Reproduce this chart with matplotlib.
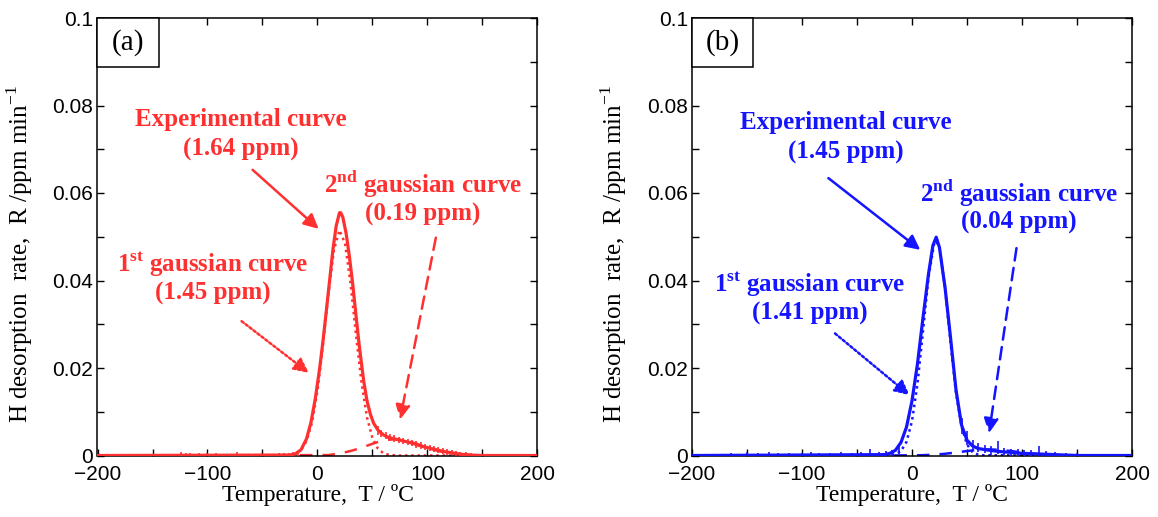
import matplotlib

matplotlib.use("Agg")

import matplotlib.pyplot as plt
from matplotlib.patches import Rectangle
from matplotlib.ticker import FuncFormatter, MultipleLocator

plt.rcParams["mathtext.fontset"] = "custom"
plt.rcParams["mathtext.rm"] = "Liberation Serif"
plt.rcParams["mathtext.bf"] = "Liberation Serif:bold"
plt.rcParams["axes.unicode_minus"] = True

RED = "#ff3030"
BLUE = "#1414ff"
SERIF = "Liberation Serif"
SANS = "Liberation Sans"

# ---- data (T in degC, R in ppm/min) ----
exp_a_T = [-200, -25, -20, -15, -10, -6, -2, 2, 5, 8, 11, 14, 17, 20, 21, 23, 26, 29,
           32, 35, 38, 42, 45, 48, 51, 55, 60, 65, 70, 75, 80, 85, 90, 95, 100, 105,
           110, 115, 120, 125, 130, 140, 150, 200]
exp_a_R = [0, 0.0001, 0.0004, 0.0013, 0.0038, 0.0075, 0.0130, 0.0200, 0.0262, 0.0330,
           0.0400, 0.0470, 0.0525, 0.0555, 0.0555, 0.0545, 0.0508, 0.0455, 0.0392,
           0.0320, 0.0250, 0.0170, 0.0125, 0.0095, 0.0074, 0.0058, 0.0047, 0.0041,
           0.0038, 0.0035, 0.0032, 0.0029, 0.0025, 0.0021, 0.0018, 0.0015, 0.0012,
           0.0009, 0.0007, 0.0005, 0.0003, 0.0001, 0, 0]

g1_a_T = [-200, -25, -20, -15, -10, -5, 0, 5, 10, 15, 20, 25, 30, 35, 40, 45, 50, 55,
          60, 65, 70, 75, 200]
g1_a_R = [0, 0.0001, 0.0004, 0.00124, 0.00328, 0.00752, 0.01486, 0.02529, 0.03718,
          0.04709, 0.0515, 0.04851, 0.03943, 0.02765, 0.01672, 0.00872, 0.00392,
          0.00152, 0.00051, 0.00015, 0.00004, 0, 0]

g2_a_T = [-200, 10, 20, 25, 30, 35, 40, 45, 50, 55, 60, 65, 70, 75, 80, 85, 90, 95, 100,
          105, 110, 115, 120, 125, 130, 135, 140, 150, 200]
g2_a_R = [0, 0.0001, 0.0005, 0.00073, 0.00103, 0.00139, 0.0018, 0.00224, 0.00269,
          0.00309, 0.00342, 0.00363, 0.0037, 0.00363, 0.00342, 0.00309, 0.00269,
          0.00224, 0.0018, 0.00139, 0.00103, 0.00073, 0.0005, 0.00033, 0.00021,
          0.00013, 0.00007, 0.00002, 0]

exp_b_T = [-200, -25, -20, -15, -10, -5, 0, 5, 10, 15, 19, 22, 25, 28, 30, 35, 40, 45,
           50, 55, 60, 70, 80, 90, 100, 110, 120, 130, 140, 150, 200]
exp_b_R = [0, 0.0002, 0.0005, 0.0012, 0.0030, 0.0065, 0.0125, 0.0210, 0.0315, 0.0415,
           0.0480, 0.0499, 0.0475, 0.0420, 0.0385, 0.0270, 0.0150, 0.0070, 0.0035,
           0.0022, 0.0016, 0.0012, 0.0009, 0.0007, 0.0005, 0.0004, 0.0003, 0.0002,
           0.0001, 0, 0]

g1_b_T = [-200, -20, -15, -10, -5, 0, 5, 10, 15, 20, 22, 25, 30, 35, 40, 45, 50, 55,
          60, 65, 200]
g1_b_R = [0, 0.00006, 0.00028, 0.00102, 0.00311, 0.00786, 0.01643, 0.02843, 0.04072,
          0.04826, 0.0490, 0.04736, 0.03846, 0.02586, 0.01439, 0.00663, 0.00253, 0.0008,
          0.00021, 0.00005, 0]

g2_b_T = [-200, 0, 10, 20, 30, 40, 50, 60, 70, 80, 90, 100, 110, 120, 130, 140, 200]
g2_b_R = [0, 0.00003, 0.00008, 0.00019, 0.00039, 0.00068, 0.00102, 0.00129, 0.0014,
          0.00129, 0.00102, 0.00068, 0.00039, 0.00019, 0.00008, 0.00003, 0]

# noise spikes on the measured curve: position, low, high
noise_a_T = [-124, -120, -116, -112, -108, -104, -100, -96, -92, -73, -40, -35, -30, -26,
             -22, -18, 55, 58, 62, 66, 70, 74, 78, 82, 86, 90, 94, 98, 102, 106, 110,
             114, 118, 122, 126, 130, 135, 140, 148]
noise_a_lo = [-0.0002, -0.0003, -0.0002, -0.0003, -0.0002, -0.0003, -0.0002, -0.0002,
              -0.0002, -0.0002, -0.0002, -0.0003, -0.0002, -0.0003, -0.0002, -0.0001,
              0.0048, 0.0042, 0.0038, 0.0034, 0.0030, 0.0029, 0.0026, 0.0023, 0.0021,
              0.0018, 0.0015, 0.0013, 0.0011, 0.0009, 0.0006, 0.0004, 0.0002, 0.0001,
              0.0000, -0.0001, -0.0001, -0.0001, -0.0001]
noise_a_hi = [0.0008, 0.0005, 0.0006, 0.0004, 0.0005, 0.0004, 0.0006, 0.0004, 0.0005,
              0.0008, 0.0004, 0.0005, 0.0005, 0.0006, 0.0007, 0.0009, 0.0068, 0.0058,
              0.0053, 0.0049, 0.0046, 0.0043, 0.0041, 0.0038, 0.0035, 0.0033, 0.0030,
              0.0027, 0.0025, 0.0022, 0.0020, 0.0017, 0.0015, 0.0013, 0.0011, 0.0009,
              0.0007, 0.0005, 0.0003]

noise_b_T = [-188, -165, -150, -140, -130, -122, -112, -100, -92, -85, -75, -65, -55,
             -46, -38, -30, -24, -18, -12, 45, 50, 55, 60, 66, 72, 78, 84, 90, 96, 102,
             108, 115, 122, 130, 140, 150]
noise_b_lo = [-0.0002, -0.0003, -0.0002, -0.0003, -0.0002, -0.0003, -0.0002, -0.0003,
              -0.0002, -0.0003, -0.0002, -0.0003, -0.0002, -0.0003, -0.0002, -0.0003,
              -0.0002, -0.0003, 0.0003, 0.0050, 0.0025, 0.0012, 0.0008, 0.0005, 0.0002,
              0.0003, 0.0002, 0.0000, -0.0002, -0.0002, -0.0002, -0.0002, -0.0003,
              -0.0002, -0.0002, -0.0002]
noise_b_hi = [0.0004, 0.0006, 0.0007, 0.0005, 0.0008, 0.0006, 0.0006, 0.0005, 0.0008,
              0.0006, 0.0006, 0.0007, 0.0006, 0.0007, 0.0016, 0.0009, 0.0010, 0.0012,
              0.0020, 0.0085, 0.0055, 0.0035, 0.0028, 0.0025, 0.0022, 0.0033, 0.0018,
              0.0015, 0.0015, 0.0012, 0.0012, 0.0021, 0.0010, 0.0008, 0.0006, 0.0006]

panel_tags = ["(a)", "(b)"]
exp_labels = [("Experimental curve", "(1.64 ppm)"), ("Experimental curve", "(1.45 ppm)")]
g1_labels = [("1$^{\\mathbf{st}}$ gaussian curve", "(1.45 ppm)"),
             ("1$^{\\mathbf{st}}$ gaussian curve", "(1.41 ppm)")]
g2_labels = [("2$^{\\mathbf{nd}}$ gaussian curve", "(0.19 ppm)"),
             ("2$^{\\mathbf{nd}}$ gaussian curve", "(0.04 ppm)")]


def style_axis(ax):
    ax.set_xlim(-200, 200)
    ax.set_ylim(0, 0.1)
    ax.xaxis.set_major_locator(MultipleLocator(100))
    ax.xaxis.set_minor_locator(MultipleLocator(50))
    ax.yaxis.set_major_locator(MultipleLocator(0.02))
    ax.yaxis.set_minor_locator(MultipleLocator(0.01))
    ax.yaxis.set_major_formatter(FuncFormatter(lambda v, _: "%g" % round(v, 3)))
    ax.tick_params(which="both", direction="in", top=True, right=True,
                   length=5, width=1.0, color="black")
    ax.tick_params(axis="x", which="major", labelsize=15, pad=7)
    ax.tick_params(axis="y", which="major", labelsize=15, pad=3)
    for lab in ax.get_xticklabels() + ax.get_yticklabels():
        lab.set_family(SANS)
    for spine in ax.spines.values():
        spine.set_linewidth(1.1)
    ax.set_xlabel("Temperature,  T / ºC", family=SERIF, fontsize=17)
    ax.set_ylabel("H desorption  rate,  R /ppm min$^{-1}$", family=SERIF, fontsize=18)
    ax.xaxis.set_label_coords(0.5, -0.066, transform=ax.transAxes)
    ax.xaxis.label.set_va("top")
    ax.yaxis.set_label_coords(-0.143, 0.46)


def tag_box(ax, tag):
    ax.add_patch(Rectangle((0, 1 - 0.112), 0.139, 0.112, transform=ax.transAxes,
                           facecolor="white", edgecolor="black", lw=1.1, zorder=5,
                           clip_on=False))
    ax.text(0.0695, 0.944, tag, transform=ax.transAxes, ha="center", va="center",
            family=SERIF, fontsize=21, zorder=6)


def label(ax, x, y, text, color):
    ax.text(x, y, text, ha="center", va="center_baseline", color=color,
            family=SERIF, fontweight="bold", fontsize=18)


def arrow(ax, start, end, color, style):
    ax.annotate("", xy=end, xytext=start,
                arrowprops=dict(arrowstyle="-|>", color=color, lw=1.8, linestyle=style,
                                mutation_scale=22, shrinkA=0, shrinkB=0))


def draw_panel(ax, color, exp, g1, g2, noise, tag, texts, spots):
    ax.plot(g2[0], g2[1], color=color, lw=1.8, linestyle=(0, (5, 4)), zorder=2)
    ax.plot(g1[0], g1[1], color=color, lw=1.8, linestyle=(0, (1, 1.5)), zorder=2)
    ax.plot(exp[0], exp[1], color=color, lw=2.3, zorder=3, solid_joinstyle="round")
    ax.vlines(noise[0], noise[1], noise[2], color=color, lw=1.2, zorder=3)
    style_axis(ax)
    tag_box(ax, tag)

    (e_pos, e_arrow), (g1_pos, g1_arrow), (g2_pos, g2_arrow) = spots
    exp_text, g1_text, g2_text = texts
    for (x, y), lines in [(e_pos, exp_text), (g1_pos, g1_text), (g2_pos, g2_text)]:
        label(ax, x, y, lines[0], color)
        label(ax, x, y - 0.0069, lines[1], color)
    arrow(ax, e_arrow[0], e_arrow[1], color, "-")
    arrow(ax, g1_arrow[0], g1_arrow[1], color, (0, (1, 1)))
    arrow(ax, g2_arrow[0], g2_arrow[1], color, (0, (5, 3)))


fig = plt.figure(figsize=(11.58, 5.17), dpi=100)
ax_a = fig.add_axes([97.5 / 1158, 61.5 / 517, 440 / 1158, 437.5 / 517])
ax_b = fig.add_axes([692 / 1158, 61.5 / 517, 440 / 1158, 437.5 / 517])

draw_panel(
    ax_a, RED,
    (exp_a_T, exp_a_R), (g1_a_T, g1_a_R), (g2_a_T, g2_a_R),
    (noise_a_T, noise_a_lo, noise_a_hi), panel_tags[0],
    (exp_labels[0], g1_labels[0], g2_labels[0]),
    [((-70, 0.0774), ((-59, 0.0653), (1, 0.0518))),
     ((-95, 0.0445), ((-69, 0.0307), (-8, 0.0189))),
     ((96, 0.0627), ((107.6, 0.0498), (75, 0.0082)))],
)
draw_panel(
    ax_b, BLUE,
    (exp_b_T, exp_b_R), (g1_b_T, g1_b_R), (g2_b_T, g2_b_R),
    (noise_b_T, noise_b_lo, noise_b_hi), panel_tags[1],
    (exp_labels[1], g1_labels[1], g2_labels[1]),
    [((-60, 0.0767), ((-76, 0.0634), (7.5, 0.047))),
     ((-93, 0.0399), ((-70, 0.0279), (-2.3, 0.0138))),
     ((97, 0.0607), ((95, 0.0474), (70, 0.0051)))],
)

fig.savefig("out.png", dpi=100)
